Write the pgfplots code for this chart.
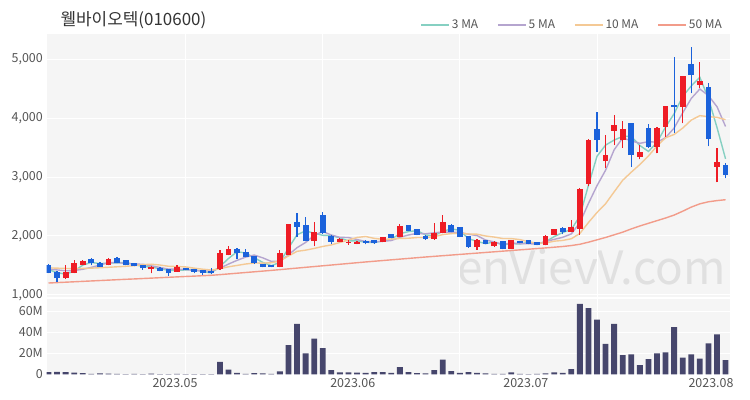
\documentclass[border=0pt]{standalone}
\usepackage{fontspec}
\setmainfont{Noto Sans CJK KR}
\usepackage{pgfplots}
\pgfplotsset{compat=1.18}
\usepackage{pgfplotstable}

\definecolor{panel}{HTML}{F5F5F5}
\definecolor{upc}{HTML}{EE1C25}
\definecolor{dnc}{HTML}{1B62DB}
\definecolor{ma3c}{HTML}{86D0C2}
\definecolor{ma5c}{HTML}{B5A5CF}
\definecolor{ma10c}{HTML}{F4C995}
\definecolor{ma50c}{HTML}{F29C8A}
\definecolor{volc}{HTML}{46466C}
\definecolor{lbl}{HTML}{555555}
\definecolor{wm}{HTML}{E0E0E0}

% daily candles: open high low close, volume in millions
\pgfplotstableread{
i O H L C V
0 1508 1520 1370 1378 2.2
1 1395 1400 1225 1283 2.5
2 1283 1508 1275 1395 2.2
3 1378 1593 1370 1547 1.8
4 1508 1585 1500 1576 1.2
5 1605 1627 1500 1537 0.6
6 1547 1555 1475 1480 1.0
7 1508 1627 1500 1605 0.8
8 1622 1640 1540 1547 0.5
9 1593 1600 1500 1508 0.4
10 1537 1545 1485 1490 0.5
11 1508 1515 1430 1452 0.3
12 1435 1485 1367 1480 0.7
13 1465 1470 1400 1407 0.4
14 1435 1440 1322 1367 0.3
15 1395 1508 1390 1480 0.5
16 1452 1460 1420 1424 0.3
17 1435 1440 1370 1395 0.3
18 1424 1430 1339 1367 0.3
19 1407 1460 1350 1367 0.3
20 1440 1763 1430 1710 12
21 1678 1830 1670 1780 4.5
22 1780 1790 1610 1710 1.5
23 1730 1780 1640 1645 0.5
24 1660 1665 1530 1540 1.2
25 1525 1530 1470 1475 1.0
26 1508 1512 1470 1475 0.6
27 1475 1760 1470 1710 3.0
28 1678 2210 1670 2200 28
29 2237 2390 1985 2150 48
30 2186 2320 1910 1915 20
31 1915 2240 1830 2070 34
32 2356 2400 2040 2050 25
33 2000 2010 1870 1900 4.2
34 1900 1960 1890 1950 2.0
35 1885 1930 1850 1900 2.0
36 1865 1910 1860 1900 1.8
37 1915 1930 1860 1885 1.5
38 1932 1940 1870 1880 2.2
39 1900 1990 1895 1983 2.3
40 2034 2040 1960 1966 1.5
41 1983 2200 1975 2170 7.0
42 2186 2190 2080 2085 2.2
43 2120 2125 2010 2017 1.3
44 2000 2010 1940 1950 1.0
45 1950 2220 1940 2050 4.2
46 2050 2356 2045 2240 14
47 2186 2195 2060 2068 3.2
48 2150 2160 1975 1983 1.5
49 2000 2005 1800 1813 2.3
50 1813 1950 1763 1932 1.5
51 1932 1940 1860 1865 1.0
52 1830 1910 1820 1900 0.6
53 1915 1920 1775 1780 0.5
54 1780 1940 1775 1932 2.0
55 1915 1920 1875 1880 0.5
56 1932 1940 1860 1865 0.4
57 1900 1905 1840 1847 0.5
58 1847 2010 1840 2000 1.0
59 2017 2125 2010 2120 2.0
60 2135 2150 2030 2060 1.5
61 2068 2270 2060 2150 5.2
62 2120 2810 2017 2800 67
63 2880 3640 2850 3627 63
64 3813 4100 3420 3627 52
65 3270 3710 3150 3370 29
66 3780 4050 3540 3880 48
67 3627 3950 3500 3813 18.5
68 3915 3920 3170 3370 19
69 3340 3540 3300 3420 9
70 3830 3900 3500 3510 14.6
71 3510 3850 3400 3830 20
72 3850 4210 3680 4200 21
73 4220 5030 3750 4190 45
74 4190 4720 3915 4710 16
75 4920 5200 4420 4730 19
76 4560 4950 4510 4630 15
77 4525 4600 3525 3640 29.5
78 3170 3500 2915 3250 38
79 3200 3230 2980 3030 13.6
}\candles

% moving averages
\pgfplotstableread{
i ma3 ma5 ma10 ma50
0 1430 1440 1460 1203
1 1380 1425 1455 1210
2 1352 1410 1450 1217
3 1408 1415 1448 1224
4 1506 1436 1450 1231
5 1553 1468 1455 1238
6 1531 1507 1462 1245
7 1541 1549 1470 1252
8 1544 1549 1478 1259
9 1553 1535 1486 1266
10 1515 1526 1497 1272
11 1483 1520 1514 1279
12 1474 1495 1522 1286
13 1446 1467 1508 1293
14 1418 1439 1487 1300
15 1418 1437 1482 1307
16 1424 1432 1476 1314
17 1433 1415 1455 1320
18 1395 1407 1437 1327
19 1376 1407 1423 1334
20 1481 1453 1445 1345
21 1619 1524 1478 1357
22 1733 1587 1501 1369
23 1712 1642 1525 1381
24 1632 1677 1542 1393
25 1553 1630 1541 1405
26 1497 1569 1546 1417
27 1553 1569 1578 1430
28 1795 1680 1661 1443
29 2020 1802 1740 1456
30 2088 1890 1760 1469
31 2045 2009 1789 1482
32 2012 2077 1823 1495
33 2007 2017 1849 1508
34 1967 1977 1890 1521
35 1917 1974 1932 1534
36 1917 1940 1975 1547
37 1895 1907 1992 1560
38 1888 1903 1960 1572
39 1916 1910 1943 1584
40 1943 1923 1948 1596
41 2040 1977 1958 1608
42 2074 2017 1962 1620
43 2091 2044 1974 1632
44 2017 2038 1974 1644
45 2006 2054 1989 1655
46 2080 2068 2023 1666
47 2119 2065 2041 1677
48 2097 2058 2051 1688
49 1955 2031 2034 1699
50 1909 2007 2031 1710
51 1870 1932 2000 1721
52 1899 1899 1982 1732
53 1848 1858 1958 1743
54 1871 1882 1956 1754
55 1864 1871 1939 1765
56 1892 1871 1902 1776
57 1864 1861 1880 1787
58 1904 1905 1881 1798
59 1989 1942 1912 1810
60 2060 1978 1925 1822
61 2110 2035 1953 1838
62 2337 2226 2043 1860
63 2859 2551 2228 1895
64 3351 2853 2398 1935
65 3541 3115 2547 1975
66 3626 3461 2748 2020
67 3688 3663 2945 2065
68 3688 3612 3082 2120
69 3534 3571 3212 2170
70 3433 3599 3357 2215
71 3587 3589 3525 2260
72 3847 3666 3665 2305
73 4073 3830 3721 2355
74 4367 4088 3829 2420
75 4543 4332 3965 2490
76 4690 4492 4040 2545
77 4333 4380 4023 2580
78 3840 4192 4011 2600
79 3307 3856 3972 2615
}\mas

\pgfplotsset{
  panelaxis/.style={
    anchor=south west, scale only axis, width=683bp,
    xmin=-0.233, xmax=79.46,
    axis line style={draw=none}, tick style={draw=none},
    xtick={16,32,48,64}, xticklabels={},
    xmajorgrids, ymajorgrids,
    grid style={white, line width=1bp},
    yticklabel style={font=\fontsize{12.5}{13}\selectfont, text=lbl, inner sep=0pt, xshift=-3.5bp},
  },
  candle/.style={forget plot, only marks, mark=*, mark size=0pt,
    mark options={draw=none, fill=none},
    error bars/y dir=plus, error bars/y explicit, error bars/error mark=none},
}

\begin{document}
\begin{tikzpicture}
\path[use as bounding box] (0bp,0bp) rectangle (750bp,400bp);
\fill[panel] (46.5bp,103bp) rectangle (729.5bp,366bp);
\fill[panel] (46.5bp,25bp) rectangle (729.5bp,101bp);
\node[anchor=base east, text=wm, font=\fontsize{46}{46}\selectfont] at (729bp,115bp) {enVievV.com};
\node[anchor=west, text=black!80, font=\fontsize{17}{19}\selectfont] at (57bp,380bp) {웰바이오텍(010600)};

\begin{axis}[panelaxis,
  at={(46.5bp,103bp)}, height=263bp,
  ymin=966, ymax=5424,
  ytick={1000,2000,3000,4000,5000},
  yticklabels={{1,000},{2,000},{3,000},{4,000},{5,000}},
  legend columns=-1,
  legend style={at={(0.992,1.034)}, anchor=east, draw=none, fill=none,
    font=\fontsize{12}{12}\selectfont, text=lbl, inner sep=0pt,
    /tikz/every even column/.append style={column sep=17bp}},
  legend image code/.code={\draw[#1, line width=1.5bp] (0bp,0bp) -- (28bp,0bp);},
]
\addplot[ma3c, line width=1.4bp] table[x=i, y=ma3] {\mas};
\addlegendentry{3 MA}
\addplot[ma5c, line width=1.4bp] table[x=i, y=ma5] {\mas};
\addlegendentry{5 MA}
\addplot[ma10c, line width=1.4bp] table[x=i, y=ma10] {\mas};
\addlegendentry{10 MA}
\addplot[ma50c, line width=1.4bp] table[x=i, y=ma50] {\mas};
\addlegendentry{50 MA}

% rising candles
\addplot[candle, restrict expr to domain={\thisrow{C}-\thisrow{O}}{0:100000},
  error bars/error bar style={upc, line width=1.2bp}]
  table[x=i, y=L, y error expr=\thisrow{H}-\thisrow{L}] {\candles};
\addplot[candle, restrict expr to domain={\thisrow{C}-\thisrow{O}}{0:100000},
  error bars/error bar style={upc, line width=5.8bp}]
  table[x=i, y=O, y error expr=\thisrow{C}-\thisrow{O}] {\candles};
% falling candles
\addplot[candle, restrict expr to domain={\thisrow{C}-\thisrow{O}}{-100000:0},
  error bars/error bar style={dnc, line width=1.2bp}]
  table[x=i, y=L, y error expr=\thisrow{H}-\thisrow{L}] {\candles};
\addplot[candle, restrict expr to domain={\thisrow{C}-\thisrow{O}}{-100000:0},
  error bars/error bar style={dnc, line width=5.8bp}]
  table[x=i, y=C, y error expr=\thisrow{O}-\thisrow{C}] {\candles};
\end{axis}

\begin{axis}[panelaxis,
  at={(46.5bp,25bp)}, height=76bp,
  ymin=-0.5, ymax=71.7,
  ytick={0,20,40,60}, yticklabels={0,20M,40M,60M},
  extra x ticks={14.76,35.5,55.7,77.3},
  extra x tick labels={2023.05,2023.06,2023.07,2023.08},
  extra x tick style={grid=none},
  xticklabel style={font=\fontsize{12.5}{13}\selectfont, text=lbl, inner sep=0pt, yshift=-3bp},
]
\addplot[ybar, bar width=5.8bp, fill=volc, draw=none] table[x=i, y=V] {\candles};
\end{axis}
\end{tikzpicture}
\end{document}
